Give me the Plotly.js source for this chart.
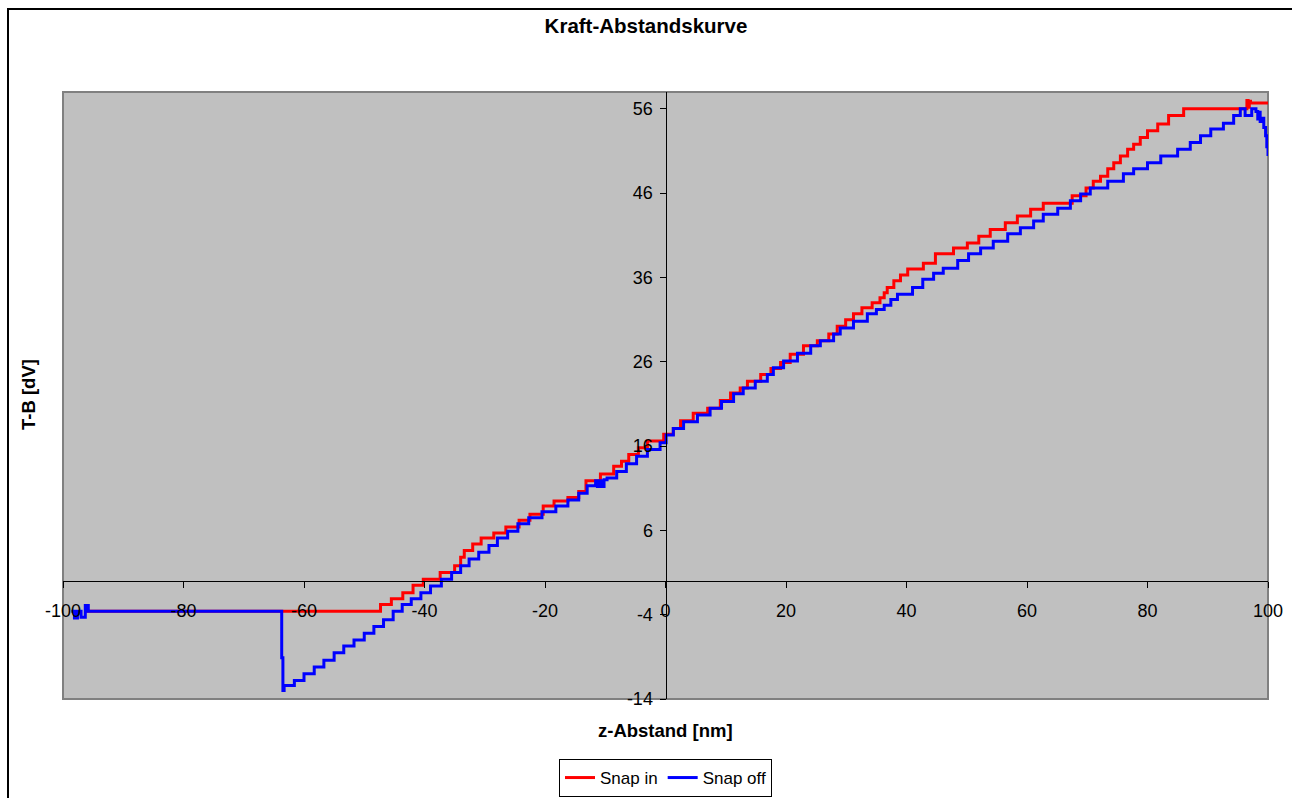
<!DOCTYPE html>
<html>
<head>
<meta charset="utf-8">
<script src="https://cdn.plot.ly/plotly-3.0.1.min.js"></script>
<style>
  html, body { margin: 0; padding: 0; background: #ffffff; }
  #wrap { position: relative; width: 1292px; height: 798px; overflow: hidden; }
  #chart { position: absolute; left: 0; top: 0; width: 1292px; height: 798px; }
  #frame { position: absolute; left: 7px; top: 8px; width: 1300px; height: 800px;
           border-top: 2px solid #000; border-left: 2px solid #000; pointer-events: none; }
</style>
</head>
<body>
<div id="wrap">
  <div id="chart"></div>
  <div id="frame"></div>
</div>
<script>
// ---- Data (step start x, level) ----
const snapInX = [
  -96.5, -47.3, -45.5, -43.6, -41.9, -40.2, -37.4, -35.0, -34.0, -33.4,
  -32.0, -30.6, -28.5, -26.5, -24.3, -22.5, -20.3, -18.5, -16.2, -14.4,
  -13.2, -10.8,  -8.6,  -7.3,  -6.1,  -4.5,  -3.0,  -0.3,   1.3,   2.5,
    4.6,   7.0,   9.1,  10.8,  12.4,  13.6,  15.8,  17.5,  19.1,  20.7,
   22.9,  25.2,  27.1,  28.5,  29.9,  31.2,  32.6,  34.3,  35.6,  36.3,
   36.8,  37.9,  39.0,  40.2,  42.8,  44.8,  47.8,  50.1,  52.0,  53.9,
   56.4,  58.4,  60.6,  62.7,  67.5,  69.8,  71.0,  72.2,  73.4,  74.4,
   75.5,  76.7,  77.7,  78.8,  80.0,  81.7,  83.5,  86.0,  96.5,  96.7,
   96.9,  97.1, 100.0
];
const snapInY = [
   -3.6,  -2.8,  -2.1,  -1.4,  -0.5,   0.2,   1.0,   1.8,   2.8,   3.6,
    4.4,   5.1,   5.7,   6.4,   7.2,   7.9,   8.9,   9.5,   9.9,  10.6,
   11.9,  12.7,  13.6,  14.2,  15.0,  15.8,  16.6,  17.4,  18.1,  19.0,
   19.9,  20.5,  21.4,  22.3,  22.9,  23.7,  24.5,  25.2,  25.9,  26.9,
   27.9,  28.5,  29.3,  30.2,  31.0,  31.7,  32.4,  33.0,  33.6,  34.2,
   34.8,  35.6,  36.3,  37.0,  37.7,  38.8,  39.5,  40.1,  40.9,  41.7,
   42.5,  43.3,  44.1,  44.8,  45.7,  46.6,  47.4,  48.0,  48.9,  49.6,
   50.4,  51.2,  51.8,  52.6,  53.4,  54.2,  55.2,  56.0,  57.0,  56.2,
   56.9,  56.7,  56.7
];

const snapOffX = [
  -98.6, -98.1, -97.6, -97.0, -96.3, -95.8, -63.7, -63.5,
  -63.3, -61.6, -60.0, -58.3, -56.7, -55.0, -53.4, -51.7, -50.0, -48.4,
  -46.8, -45.2, -43.7, -42.2, -40.6, -39.0, -37.2, -35.5, -34.0, -32.6,
  -31.0, -29.3, -27.9, -26.2, -24.5, -22.7, -20.5, -18.2, -16.2, -14.4,
  -13.0, -11.6, -11.3, -10.9, -10.6, -10.2,  -9.7,  -8.1,  -6.5,  -4.8,
   -3.0,  -0.9,   0.1,   1.3,   3.0,   5.3,   7.4,   9.3,  11.3,  12.9,
   14.9,  16.9,  17.9,  19.6,  21.9,  24.1,  25.7,  27.9,  29.0,  31.2,
   33.5,  35.0,  36.3,  37.4,  38.5,  41.0,  42.7,  44.5,  46.1,  48.5,
   50.3,  52.3,  54.4,  56.8,  58.9,  61.1,  62.7,  65.1,  67.2,  68.9,
   70.5,  73.4,  76.0,  77.7,  80.0,  82.2,  85.0,  87.1,  88.8,  90.5,
   92.6,  94.3,  95.4,  96.2,  97.3,  98.0,  98.3,  98.5,  98.7,  99.0,
   99.3,  99.6,  99.8, 100.0
];
const snapOffY = [
   -3.6,  -4.4,  -3.6,  -4.3,  -2.9,  -3.6,  -9.1, -13.0,
  -12.4, -11.8, -11.0, -10.2,  -9.4,  -8.5,  -7.7,  -7.0,  -6.2,  -5.4,
   -4.6,  -3.6,  -2.8,  -2.1,  -1.4,  -0.6,   0.2,   1.0,   1.8,   2.6,
    3.4,   4.2,   5.1,   5.9,   6.8,   7.5,   8.2,   8.9,   9.6,  10.4,
   11.3,  11.9,  11.2,  11.9,  11.2,  12.0,  12.2,  13.0,  13.9,  14.8,
   15.6,  16.4,  17.3,  18.1,  18.9,  19.7,  20.5,  21.3,  22.2,  22.9,
   23.7,  24.5,  25.3,  26.1,  27.0,  27.9,  28.5,  29.3,  30.0,  30.8,
   31.7,  32.2,  32.7,  33.4,  34.0,  34.8,  35.8,  36.5,  37.1,  38.0,
   38.8,  39.5,  40.3,  41.2,  41.9,  42.7,  43.5,  44.2,  45.1,  45.9,
   46.6,  47.4,  48.3,  48.9,  49.6,  50.4,  51.2,  52.0,  52.8,  53.6,
   54.3,  55.2,  56.0,  55.2,  56.0,  55.7,  54.8,  55.6,  54.5,  54.9,
   53.8,  52.8,  51.5,  50.4
];

const seriesNames = ['Snap in', 'Snap off'];
const xTicks = [-100, -80, -60, -40, -20, 0, 20, 40, 60, 80, 100];
const yTicks = [-14, -4, 6, 16, 26, 36, 46, 56];

const FONT = 'Liberation Sans, Arial, sans-serif';

const traces = [
  { x: snapInX, y: snapInY, name: seriesNames[0], type: 'scatter', mode: 'lines',
    line: { color: '#ff0000', width: 3, shape: 'hv' } },
  { x: snapOffX, y: snapOffY, name: seriesNames[1], type: 'scatter', mode: 'lines',
    line: { color: '#0000ff', width: 3, shape: 'hv' } }
];

const layout = {
  width: 1292, height: 798,
  margin: { l: 63, r: 24, t: 92, b: 99, autoexpand: false },
  paper_bgcolor: '#ffffff',
  plot_bgcolor: '#c0c0c0',
  font: { family: FONT, size: 18, color: '#000' },
  showlegend: true,
  title: { text: '<b>Kraft-Abstandskurve</b>', font: { family: FONT, size: 20.5, color: '#000' },
           x: 0.5, xref: 'container', xanchor: 'center', y: 1 - 26/798, yref: 'container', yanchor: 'middle' },
  xaxis: {
    range: [-100, 100], tickvals: xTicks, ticktext: xTicks.map(String),
    showgrid: false, zeroline: false, showline: true, linecolor: '#000', linewidth: 1,
    ticks: 'outside', ticklen: 6, tickcolor: '#000', tickwidth: 1,
    anchor: 'free', position: 14/72, ticklabelstandoff: 7, automargin: false,
    tickfont: { family: FONT, size: 18, color: '#000' }
  },
  yaxis: {
    range: [-14, 58], tickvals: yTicks, ticktext: yTicks.map(String),
    showgrid: false, zeroline: false, showline: true, linecolor: '#000', linewidth: 1,
    ticks: 'outside', ticklen: 6, tickcolor: '#000', tickwidth: 1,
    anchor: 'free', position: 0.5, ticklabelstandoff: 3, automargin: false,
    tickfont: { family: FONT, size: 18, color: '#000' }
  },
  legend: {
    orientation: 'h', x: 0.5, xanchor: 'center', y: (699 - 759) / 607, yanchor: 'top',
    bordercolor: '#000', borderwidth: 1, bgcolor: '#ffffff',
    font: { family: FONT, size: 17, color: '#000' },
    itemwidth: 30, tracegroupgap: 0
  },
  shapes: [
    { type: 'rect', xref: 'paper', yref: 'paper', x0: 0, x1: 1, y0: 0, y1: 1,
      line: { color: '#808080', width: 2 }, layer: 'below' }
  ],
  annotations: [
    { text: '<b>z-Abstand [nm]</b>', xref: 'paper', yref: 'paper', x: 0.5, y: (699 - 730) / 607,
      xanchor: 'center', yanchor: 'middle', showarrow: false, font: { family: FONT, size: 18.5, color: '#000' } },
    { text: '<b>T-B [dV]</b>', xref: 'paper', yref: 'paper', x: (28 - 63) / 1205, y: (699 - 395) / 607,
      xanchor: 'center', yanchor: 'middle', textangle: -90, showarrow: false,
      font: { family: FONT, size: 18.5, color: '#000' } }
  ],
  hovermode: false
};

Plotly.newPlot('chart', traces, layout, { staticPlot: true, displayModeBar: false });
</script>
</body>
</html>
